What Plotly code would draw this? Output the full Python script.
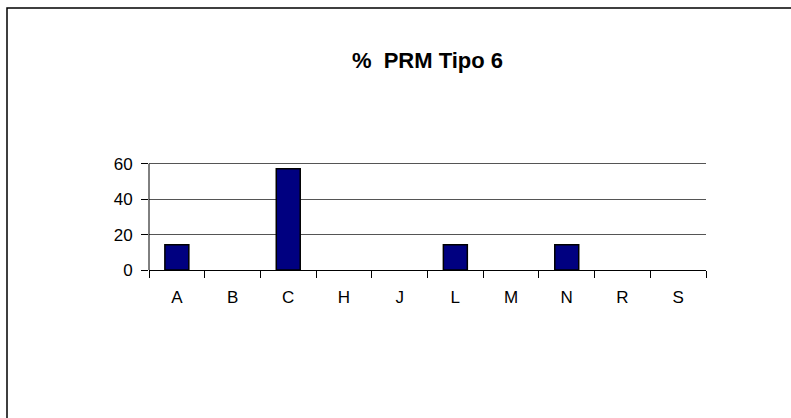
import plotly.graph_objects as go

categories = ["A", "B", "C", "H", "J", "L", "M", "N", "R", "S"]
values = [14.29, 0, 57.14, 0, 0, 14.29, 0, 14.29, 0, 0]
y_ticks = [0, 20, 40, 60]
y_max = 61
title_text = "%  PRM Tipo 6"

W, H = 791, 418
left, right, top, bottom = 149, 85, 162, 148

# outline only the bars that have height
outline_widths = [1.5 if v > 0 else 0 for v in values]

fig = go.Figure(
    go.Bar(
        x=categories,
        y=values,
        marker=dict(color="#000080", line=dict(color="#000000", width=outline_widths)),
        width=0.43,
    )
)

font = dict(family="Liberation Sans, Arial, sans-serif", color="#000000")

fig.update_layout(
    width=W,
    height=H,
    margin=dict(l=left, r=right, t=top, b=bottom, pad=0),
    paper_bgcolor="white",
    plot_bgcolor="white",
    showlegend=False,
    font=dict(size=17, **font),
    title=dict(
        text="<b>" + title_text + "</b>",
        x=(left + (W - left - right) / 2) / W,
        xanchor="center",
        y=1 - 60 / H,
        yanchor="middle",
        font=dict(size=22, **font),
    ),
    xaxis=dict(
        type="category",
        range=[-0.5, len(categories) - 0.5],
        showgrid=False,
        showline=True,
        linecolor="#000000",
        linewidth=1,
        ticks="outside",
        tickson="boundaries",
        ticklen=7,
        tickcolor="#000000",
        ticklabelstandoff=12,
        tickfont=dict(size=17, **font),
        zeroline=False,
    ),
    yaxis=dict(
        range=[0, y_max],
        tickvals=y_ticks,
        showgrid=True,
        gridcolor="#555555",
        gridwidth=1,
        showline=False,
        ticks="outside",
        ticklen=7,
        tickcolor="#000000",
        ticklabelstandoff=5,
        tickfont=dict(size=17, **font),
        zeroline=False,
    ),
    shapes=[
        # value axis line, running from 0 up to the top tick
        dict(
            type="line",
            xref="paper",
            yref="y",
            x0=0,
            x1=0,
            y0=0,
            y1=y_ticks[-1],
            line=dict(color="#000000", width=1),
            layer="above",
        ),
        # chart frame
        dict(
            type="rect",
            xref="paper",
            yref="paper",
            x0=(7 - left) / (W - left - right),
            x1=(W + 5 - left) / (W - left - right),
            y0=(bottom - H - 5) / (H - top - bottom),
            y1=(H - 8 - bottom) / (H - top - bottom),
            line=dict(color="#000000", width=1.5),
            fillcolor="rgba(0,0,0,0)",
            layer="above",
        ),
    ],
)

fig.write_html("out.html")
